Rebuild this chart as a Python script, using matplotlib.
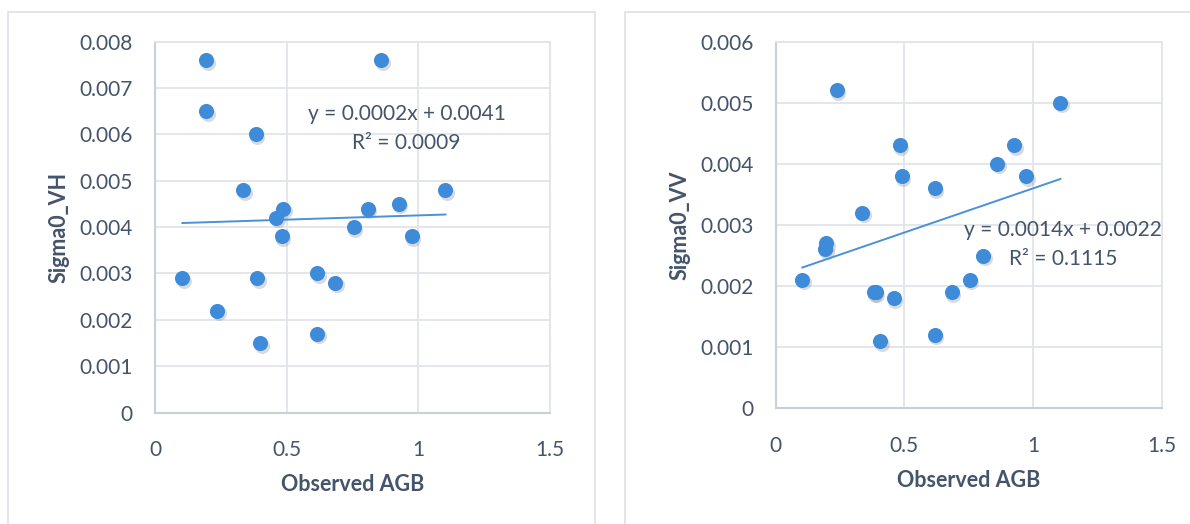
import numpy as np
import matplotlib
matplotlib.use("Agg")
import matplotlib.pyplot as plt
import matplotlib.transforms as mtransforms
from matplotlib.patches import Rectangle

# ---- data ----
agb_vh = [0.195, 0.859, 0.195, 0.382, 0.335, 1.103, 0.487, 0.808, 0.926, 0.461,
          0.755, 0.481, 0.975, 0.104, 0.389, 0.617, 0.685, 0.236, 0.399, 0.617]
sigma_vh = [0.0076, 0.0076, 0.0065, 0.0060, 0.0048, 0.0048, 0.0044, 0.0044, 0.0045, 0.0042,
            0.0040, 0.0038, 0.0038, 0.0029, 0.0029, 0.0030, 0.0028, 0.0022, 0.0015, 0.0017]

agb_vv = [0.238, 1.106, 0.482, 0.926, 0.861, 0.489, 0.974, 0.618, 0.337, 0.196,
          0.193, 0.807, 0.104, 0.755, 0.382, 0.389, 0.685, 0.459, 0.406, 0.618]
sigma_vv = [0.0052, 0.0050, 0.0043, 0.0043, 0.0040, 0.0038, 0.0038, 0.0036, 0.0032, 0.0027,
            0.0026, 0.0025, 0.0021, 0.0021, 0.0019, 0.0019, 0.0019, 0.0018, 0.0011, 0.0012]

eq_vh = "y = 0.0002x + 0.0041\nR² = 0.0009"
eq_vv = "y = 0.0014x + 0.0022\nR² = 0.1115"

xticks = [0, 0.5, 1, 1.5]
xticklabels = ["0", "0.5", "1", "1.5"]
yticks_vh = [0, 0.001, 0.002, 0.003, 0.004, 0.005, 0.006, 0.007, 0.008]
yticks_vv = [0, 0.001, 0.002, 0.003, 0.004, 0.005, 0.006]

# ---- style ----
FONT = "Lato"
TXT = "#44546A"
GRID = "#E1E5EB"
SPINE = "#C9D0D9"
MARK = "#3E8CD9"
LINE = "#4A91DA"

W, H = 1190, 524
fig = plt.figure(figsize=(W / 100, H / 100), dpi=100)
fig.patch.set_facecolor("white")

# panel frames
fig.patches.append(Rectangle((8 / W, -0.02), (595 - 8) / W, 1 - 11.6 / H + 0.02,
                             transform=fig.transFigure, fill=False,
                             edgecolor="#DDE1E6", linewidth=1.2))
fig.patches.append(Rectangle((625 / W, -0.02), (W - 625 + 10) / W, 1 - 11.6 / H + 0.02,
                             transform=fig.transFigure, fill=False,
                             edgecolor="#DDE1E6", linewidth=1.2))


def panel(rect, x, y, yticks, ymax, ylabel, eq, eq_pos):
    ax = fig.add_axes(rect)
    ax.set_xlim(0, 1.5)
    ax.set_ylim(0, ymax)
    ax.set_xticks(xticks)
    ax.set_xticklabels(xticklabels)
    ax.set_yticks(yticks)
    ax.set_yticklabels(["0" if v == 0 else f"{v:.3f}" for v in yticks])
    ax.grid(True, color=GRID, linewidth=1.3)
    ax.set_axisbelow(True)
    for s in ["top", "right"]:
        ax.spines[s].set_color(GRID)
        ax.spines[s].set_linewidth(1.3)
    for s in ["left", "bottom"]:
        ax.spines[s].set_color(SPINE)
        ax.spines[s].set_linewidth(1.5)
    ax.tick_params(length=0, colors=TXT, labelsize=15)
    ax.tick_params(axis="y", pad=16)
    ax.tick_params(axis="x", pad=20)
    for lab in ax.get_xticklabels() + ax.get_yticklabels():
        lab.set_fontfamily(FONT)
        lab.set_color(TXT)

    # shadow
    shadow = mtransforms.offset_copy(ax.transData, fig=fig, x=1.5, y=-2.5, units="dots")
    ax.scatter(x, y, s=118, color="#7F8791", alpha=0.3, linewidths=0,
               transform=shadow, zorder=2)
    ax.scatter(x, y, s=118, color=MARK, linewidths=0, zorder=3)

    # trend line
    k, b = np.polyfit(x, y, 1)
    xs = np.array([min(x), max(x)])
    ax.plot(xs, k * xs + b, color=LINE, linewidth=1.4, zorder=2.5)

    ax.text(eq_pos[0], eq_pos[1], eq, transform=ax.transData, ha="center", va="center",
            fontsize=15, color=TXT, fontfamily=FONT, linespacing=1.55, zorder=4)

    ax.set_xlabel("Observed AGB", fontsize=15.5, fontweight="bold", color=TXT,
                  fontfamily=FONT, labelpad=10)
    ax.set_ylabel(ylabel, fontsize=15.5, fontweight="bold", color=TXT,
                  fontfamily=FONT, labelpad=7)
    return ax


ax1 = panel([155 / W, 1 - 412.6 / H, 395 / W, 371 / H], agb_vh, sigma_vh, yticks_vh, 0.008,
            "Sigma0_VH", eq_vh, (0.955, 0.00612))
ax2 = panel([775.6 / W, 1 - 408.3 / H, 386.2 / W, 366.7 / H], agb_vv, sigma_vv, yticks_vv, 0.006,
            "Sigma0_VV", eq_vv, (1.116, 0.00268))

fig.savefig("out.png", dpi=100, facecolor="white")
